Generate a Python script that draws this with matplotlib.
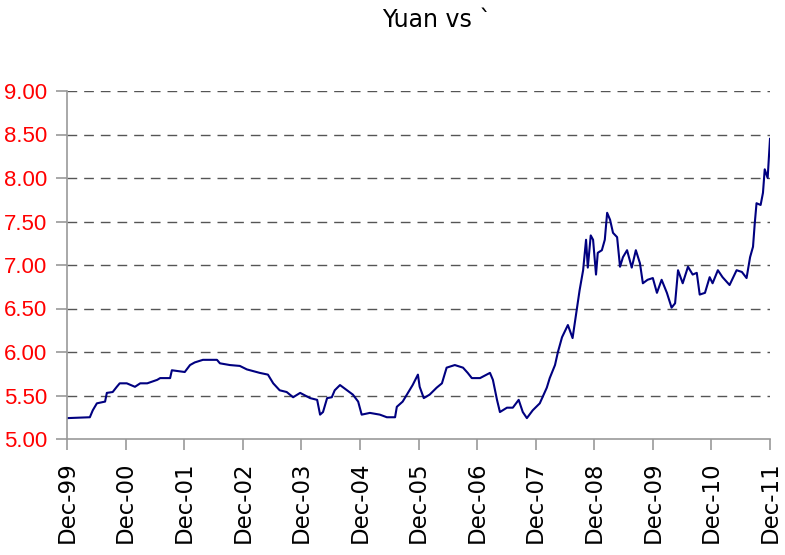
import matplotlib
matplotlib.use("Agg")
import matplotlib.pyplot as plt

# x: years since Dec-1999 ; y: exchange rate
years = [0.00, 0.39, 0.44, 0.51, 0.65, 0.68, 0.78, 0.85, 0.90, 1.02, 1.16, 1.25, 1.37,
         1.54, 1.59, 1.76, 1.79, 2.01, 2.10, 2.18, 2.32, 2.56, 2.61, 2.78, 2.95, 3.07,
         3.29, 3.43, 3.52, 3.63, 3.75, 3.86, 3.98, 4.15, 4.27, 4.32, 4.37, 4.44, 4.52,
         4.57, 4.66, 4.78, 4.88, 4.97, 5.03, 5.17, 5.34, 5.46, 5.60, 5.63, 5.73, 5.82,
         5.90, 5.99, 6.02, 6.09, 6.19, 6.31, 6.40, 6.48, 6.62, 6.76, 6.84, 6.91, 7.05,
         7.22, 7.27, 7.34, 7.39, 7.51, 7.61, 7.71, 7.78, 7.85, 7.95, 8.07, 8.19, 8.24,
         8.33, 8.38, 8.45, 8.55, 8.63, 8.70, 8.75, 8.81, 8.86, 8.89, 8.94, 8.98, 9.03,
         9.06, 9.13, 9.18, 9.22, 9.27, 9.32, 9.39, 9.44, 9.49, 9.56, 9.64, 9.71, 9.78,
         9.83, 9.91, 10.00, 10.07, 10.15, 10.24, 10.32, 10.38, 10.43, 10.51, 10.60,
         10.68, 10.75, 10.80, 10.89, 10.97, 11.02, 11.11, 11.19, 11.31, 11.43, 11.52,
         11.60, 11.66, 11.71, 11.74, 11.77, 11.84, 11.88, 11.91, 11.96, 12.00]
rate = [5.24, 5.25, 5.33, 5.41, 5.43, 5.53, 5.54, 5.60, 5.64, 5.64, 5.60, 5.64, 5.64,
        5.68, 5.70, 5.70, 5.79, 5.77, 5.85, 5.88, 5.91, 5.91, 5.87, 5.85, 5.84, 5.80,
        5.76, 5.74, 5.64, 5.56, 5.54, 5.48, 5.53, 5.47, 5.45, 5.28, 5.31, 5.47, 5.48,
        5.56, 5.62, 5.56, 5.51, 5.43, 5.28, 5.30, 5.28, 5.25, 5.25, 5.37, 5.43, 5.53,
        5.62, 5.74, 5.60, 5.47, 5.51, 5.59, 5.64, 5.82, 5.85, 5.82, 5.76, 5.70, 5.70,
        5.76, 5.68, 5.45, 5.31, 5.36, 5.36, 5.45, 5.31, 5.24, 5.33, 5.41, 5.59, 5.70,
        5.85, 6.00, 6.17, 6.31, 6.16, 6.48, 6.71, 6.94, 7.29, 6.97, 7.34, 7.29, 6.89,
        7.14, 7.17, 7.29, 7.60, 7.52, 7.37, 7.32, 6.98, 7.09, 7.17, 6.97, 7.17, 7.02,
        6.79, 6.83, 6.85, 6.68, 6.83, 6.68, 6.51, 6.56, 6.94, 6.79, 6.98, 6.89, 6.91,
        6.66, 6.68, 6.86, 6.79, 6.94, 6.86, 6.77, 6.94, 6.92, 6.85, 7.09, 7.21, 7.48,
        7.71, 7.69, 7.83, 8.10, 8.00, 8.45]

x_tick_labels = ["Dec-99", "Dec-00", "Dec-01", "Dec-02", "Dec-03", "Dec-04", "Dec-05",
                 "Dec-06", "Dec-07", "Dec-08", "Dec-09", "Dec-10", "Dec-11"]
y_ticks = [5.0, 5.5, 6.0, 6.5, 7.0, 7.5, 8.0, 8.5, 9.0]

fig = plt.figure(figsize=(7.85, 5.55), dpi=100)
ax = fig.add_axes([67/785, 1-439/555, (770-67)/785, (439-91)/555])

ax.plot(years, rate, color="#000080", linewidth=1.5)

ax.set_xlim(0, 12)
ax.set_ylim(5.0, 9.0)
ax.set_xticks(range(len(x_tick_labels)))
ax.set_xticklabels(x_tick_labels, rotation=90, fontsize=16.5, color="black")
ax.set_yticks(y_ticks)
ax.set_yticklabels([f"{v:.2f}" for v in y_ticks], fontsize=16, color="red",
                   family="Liberation Sans")

for v in y_ticks[1:]:
    ax.axhline(v, color="#555555", linestyle=(0, (7, 5)), linewidth=1.0, zorder=0)

for s in ["top", "right"]:
    ax.spines[s].set_visible(False)
for s in ["left", "bottom"]:
    ax.spines[s].set_color("#999999")
    ax.spines[s].set_linewidth(1.2)
ax.tick_params(axis="both", direction="out", length=8, color="#999999", width=1.2)
ax.tick_params(axis="y", pad=6)
ax.tick_params(axis="x", pad=8)

fig.text(437/785, 1-20/555, "Yuan vs `", ha="center", va="center", fontsize=17)

fig.savefig("out.png", dpi=100)
